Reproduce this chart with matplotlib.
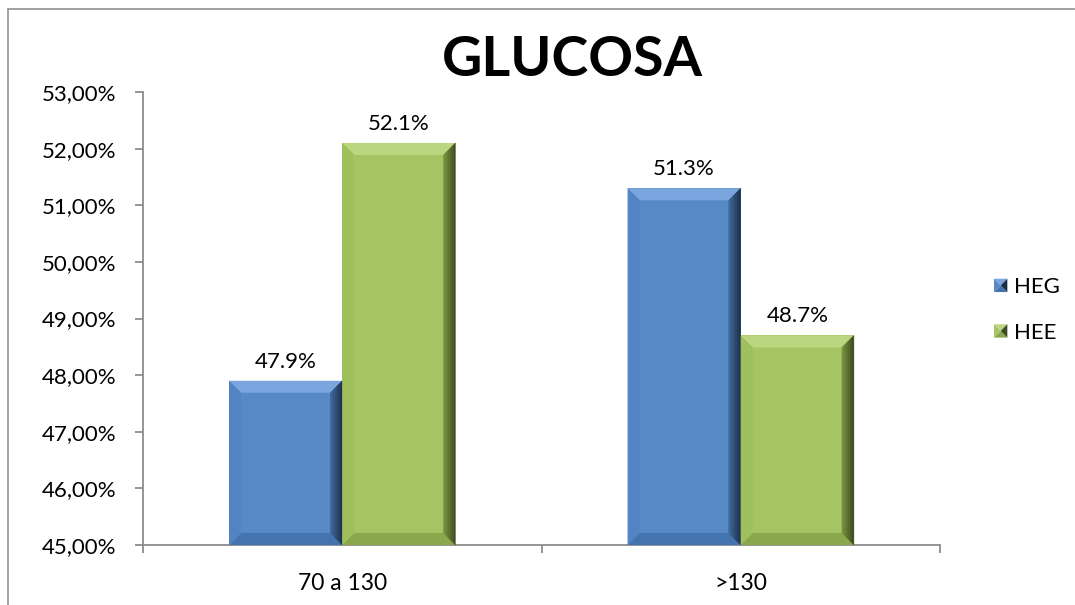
import matplotlib
matplotlib.use("Agg")
import matplotlib.pyplot as plt
from matplotlib.patches import Polygon, Rectangle
from matplotlib.lines import Line2D
from matplotlib.legend_handler import HandlerBase
from matplotlib.ticker import FuncFormatter
from matplotlib.colors import to_rgb

# --- data ---------------------------------------------------------------
categories = ["70 a 130", ">130"]
series_names = ["HEG", "HEE"]
heg_values = [47.9, 51.3]
hee_values = [52.1, 48.7]
y_ticks = [45, 46, 47, 48, 49, 50, 51, 52, 53]
title = "GLUCOSA"

# bevel palettes: face, top, left, bottom, right(outer), right(inner)
PALETTES = {
    "HEG": dict(face="#5889C7", top="#7AA5DE", left="#5283C2",
                bottom="#4573AD", right_out="#1C2F47", right_in="#416BA0"),
    "HEE": dict(face="#A6C464", top="#BAD67F", left="#A0BF5D",
                bottom="#8BA74E", right_out="#3D4920", right_in="#7B9641"),
}

FONT = "Lato"
TXT = 16
W, H, DPI = 1075, 605, 100

fig = plt.figure(figsize=(W / DPI, H / DPI), dpi=DPI)
ax = fig.add_axes([143 / W, 1 - 545 / H, (940 - 143) / W, (545 - 92) / H])
ax.set_xlim(-0.5, 1.5)
ax.set_ylim(45, 53)

px_x = 2.0 / (940 - 143)      # data units per pixel horizontally
px_y = 8.0 / (545 - 92)       # data units per pixel vertically
bevel = 12

bar_w = 0.284
xpos = list(range(len(categories)))


def draw_bevel(rect, pal):
    x0, y0 = rect.get_x(), rect.get_y()
    x1, y1 = x0 + rect.get_width(), y0 + rect.get_height()
    bx, by = bevel * px_x, bevel * px_y
    ix0, ix1, iy0, iy1 = x0 + bx, x1 - bx, y0 + by, y1 - by
    polys = [
        ([(x0, y1), (x1, y1), (ix1, iy1), (ix0, iy1)], pal["top"]),
        ([(x0, y0), (ix0, iy0), (ix1, iy0), (x1, y0)], pal["bottom"]),
        ([(x0, y0), (x0, y1), (ix0, iy1), (ix0, iy0)], pal["left"]),
    ]
    for pts, c in polys:
        ax.add_patch(Polygon(pts, closed=True, facecolor=c, edgecolor="none", zorder=3))
    # right side: dark gradient made from thin strips
    n = 6
    c_in, c_out = to_rgb(pal["right_in"]), to_rgb(pal["right_out"])
    for k in range(n):
        t0, t1 = k / n, (k + 1) / n
        xa, xb = ix1 + (x1 - ix1) * t0, ix1 + (x1 - ix1) * t1
        ya0, ya1 = iy0 - (iy0 - y0) * t0, iy1 + (y1 - iy1) * t0
        yb0, yb1 = iy0 - (iy0 - y0) * t1, iy1 + (y1 - iy1) * t1
        tm = (t0 + t1) / 2
        c = tuple(ci + (co - ci) * tm for ci, co in zip(c_in, c_out))
        ax.add_patch(Polygon([(xa, ya0), (xa, ya1), (xb, yb1), (xb, yb0)],
                             closed=True, facecolor=c, edgecolor=c, lw=0.3, zorder=3))


for name, vals, off in [("HEG", heg_values, -bar_w / 2), ("HEE", hee_values, bar_w / 2)]:
    pal = PALETTES[name]
    bars = ax.bar([p + off for p in xpos], [v - 45 for v in vals], bottom=45,
                  width=bar_w, color=pal["face"], edgecolor="none", zorder=2, label=name)
    for rect, v in zip(bars.patches, vals):
        draw_bevel(rect, pal)
        ax.text(rect.get_x() + rect.get_width() / 2, v + 9 * px_y, f"{v:.1f}%",
                ha="center", va="bottom", fontsize=TXT, family=FONT, color="#000000")

# axes styling
axis_grey = "#8C8C8C"
for s in ["top", "right"]:
    ax.spines[s].set_visible(False)
for s in ["left", "bottom"]:
    ax.spines[s].set_color(axis_grey)
    ax.spines[s].set_linewidth(1.3)

ax.set_yticks(y_ticks)
ax.yaxis.set_major_formatter(FuncFormatter(lambda v, _: f"{v:.2f}".replace(".", ",") + "%"))
ax.tick_params(axis="y", direction="out", length=6, width=1.3, color=axis_grey,
               labelsize=TXT, pad=13)
ax.set_xticks(xpos)
ax.set_xticklabels(categories)
ax.set_xticks([-0.5, 0.5, 1.5], minor=True)
ax.tick_params(axis="x", which="major", length=0, labelsize=TXT + 0.5, pad=20)
ax.tick_params(axis="x", which="minor", direction="out", length=6, width=1.3, color=axis_grey)
for lab in ax.get_xticklabels() + ax.get_yticklabels():
    lab.set_family(FONT)

fig.text(572 / W, 1 - 60 / H, title, ha="center", va="center",
         fontsize=40, fontweight="bold", family=FONT)


class BevelSquare(HandlerBase):
    def create_artists(self, legend, orig_handle, xdescent, ydescent,
                       width, height, fontsize, trans):
        pal = PALETTES[orig_handle.get_label()]
        s = min(width, height)
        x0, y0 = -xdescent + (width - s), -ydescent + (height - s) / 2
        x1, y1 = x0 + s, y0 + s
        cx, cy = (x0 + x1) / 2, (y0 + y1) / 2
        tris = [
            ([(x0, y1), (x1, y1), (cx, cy)], pal["top"]),
            ([(x0, y0), (x1, y0), (cx, cy)], pal["bottom"]),
            ([(x0, y0), (x0, y1), (cx, cy)], pal["face"]),
            ([(x1, y0), (x1, y1), (cx, cy)], pal["right_out"]),
        ]
        return [Polygon(pts, closed=True, facecolor=c, edgecolor="none", transform=trans)
                for pts, c in tris]


handles = [Rectangle((0, 0), 1, 1, label=n) for n in series_names]
leg = fig.legend(handles=handles, labels=series_names, loc="center left",
                 bbox_to_anchor=(994 / W, 1 - 310 / H), frameon=False,
                 handler_map={Rectangle: BevelSquare()}, handlelength=0.6,
                 handleheight=0.6, handletextpad=0.3, labelspacing=1.15,
                 prop={"family": FONT, "size": TXT}, borderpad=0, borderaxespad=0)

# outer chart frame (left and top edges)
frame_grey = "#9A9A9A"
fig.add_artist(Line2D([8 / W, 8 / W], [0, 1 - 9 / H], color=frame_grey, lw=1.3))
fig.add_artist(Line2D([8 / W, 1074 / W], [1 - 9 / H, 1 - 9 / H], color=frame_grey, lw=1.3))

fig.savefig("out.png", dpi=DPI)
